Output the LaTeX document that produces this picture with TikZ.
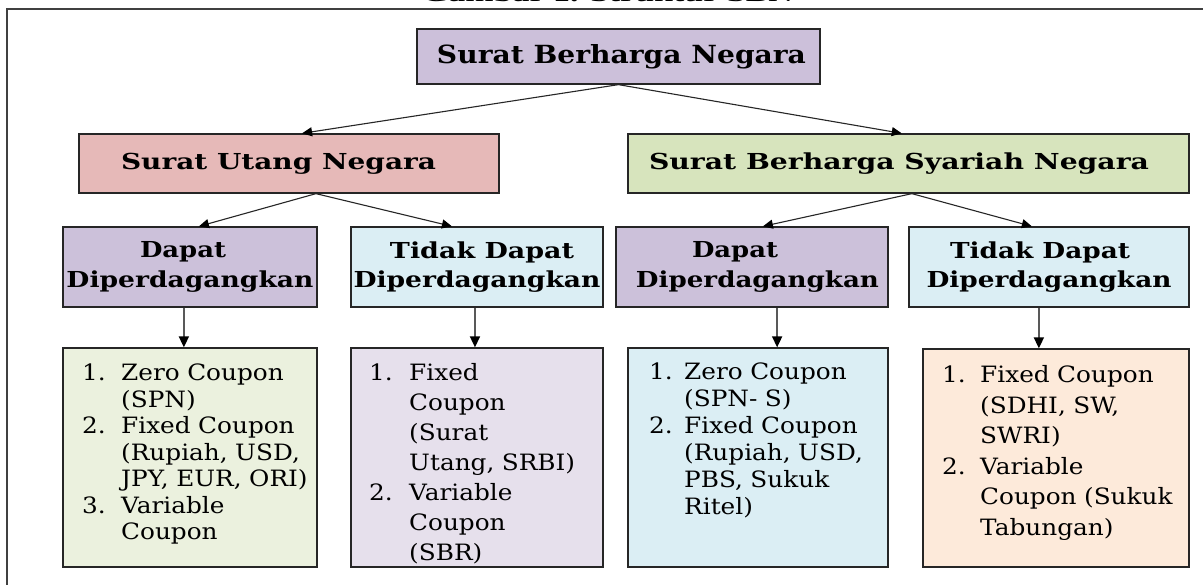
\documentclass[tikz,border=0pt]{standalone}
\usepackage{fontspec}
\usepackage{graphicx}
\usetikzlibrary{arrows.meta,calc}
\setmainfont{DejaVu Serif}
\newfontfamily\listfont{DejaVu Serif}[FakeStretch=1.1]
\newfontfamily\titlefont{Liberation Serif}
\definecolor{cRoot}{HTML}{CCC0DA}
\definecolor{cSun}{HTML}{E6B9B8}
\definecolor{cSbsn}{HTML}{D7E4BD}
\definecolor{cDapat}{HTML}{CCC1DA}
\definecolor{cTidak}{HTML}{DBEEF4}
\definecolor{cLA}{HTML}{EBF1DE}
\definecolor{cLB}{HTML}{E6E0EC}
\definecolor{cLC}{HTML}{DBEEF4}
\definecolor{cLD}{HTML}{FDEADA}
\newcommand\fitw[2]{\resizebox{#1}{\height}{#2}}
\newcommand\li[3]{\makebox[#1][l]{#2}#3}
\newcommand\lc[2]{\hspace*{#1}#2}
\begin{document}
\begin{tikzpicture}[x=1pt,y=-1pt,
  box/.style={draw=black!85, line width=1.3pt, inner sep=0pt, rectangle},
  hdr/.style={box, font=\bfseries\fontsize{22}{29.5}\selectfont, align=center},
  txt/.style={anchor=base west, inner sep=0pt, text width=280pt, align=left},
  conn/.style={line width=1.1pt, draw=black!85, -{Triangle[length=10pt,width=9pt,color=black]}},
  vconn/.style={line width=1.7pt, draw=black!65, -{Triangle[length=11pt,width=10pt,color=black]}}
]
\useasboundingbox (0,0) rectangle (1203,585);
\clip (0,0) rectangle (1203,585);
\fill[white] (0,0) rectangle (1203,585);
% title (cut off at top)
\node[anchor=base, inner sep=0pt, font=\titlefont\bfseries\fontsize{22}{24}\selectfont] (title) at (607.5,2) {\fitw{371pt}{Gambar 1. Struktur SBN}};
% frame
\draw[line width=1.8pt, black!75] (7,590) -- (7,9) -- (1210,9);
% level 1
\node[hdr, fill=cRoot, minimum width=403pt, minimum height=55pt, font=\bfseries\fontsize{25}{28}\selectfont] (root) at (618.5,56.5) {\makebox[375pt][r]{\fitw{369pt}{Surat Berharga Negara}}};
% level 2
\node[hdr, fill=cSun, minimum width=420pt, minimum height=59pt] (sun) at (289,163.5) {\makebox[336pt][l]{\fitw{315pt}{Surat Utang Negara}}};
\node[hdr, fill=cSbsn, minimum width=561pt, minimum height=59pt] (sbsn) at (908.5,163.5) {\makebox[519pt][l]{\fitw{500pt}{Surat Berharga Syariah Negara}}};
% level 3
\node[hdr, fill=cDapat, minimum width=254pt, minimum height=80pt] (dA) at (190,267) {\makebox[100pt][l]{\fitw{86pt}{Dapat}}\\\fitw{247pt}{Diperdagangkan}};
\node[hdr, fill=cTidak, minimum width=252pt, minimum height=80pt] (dB) at (477,267) {\makebox[194pt][r]{\fitw{184pt}{Tidak Dapat}}\\\fitw{247pt}{Diperdagangkan}};
\node[hdr, fill=cDapat, minimum width=272pt, minimum height=80pt] (dC) at (752,267) {\makebox[120pt][l]{\fitw{86pt}{Dapat}}\\\makebox[254pt][r]{\fitw{243pt}{Diperdagangkan}}};
\node[hdr, fill=cTidak, minimum width=280pt, minimum height=80pt] (dD) at (1049,267) {\makebox[198pt][l]{\fitw{180pt}{Tidak Dapat}}\\\fitw{245pt}{Diperdagangkan}};
% level 4 boxes
\node[box, fill=cLA, minimum width=254pt, minimum height=219pt] (lA) at (190,457.5) {};
\node[box, fill=cLB, minimum width=252pt, minimum height=219pt] (lB) at (477,457.5) {};
\node[box, fill=cLC, minimum width=260pt, minimum height=219pt] (lC) at (758,457.5) {};
\node[box, fill=cLD, minimum width=266pt, minimum height=218pt] (lD) at (1056,458) {};
% list texts
\node[txt, font=\listfont\fontsize{22.5}{26.5}\selectfont] (tA) at (82,381) {\li{39pt}{1.}{Zero Coupon}\\ \lc{39pt}{(SPN)}\\ \li{39pt}{2.}{Fixed Coupon}\\ \lc{39pt}{(Rupiah, USD,}\\ \lc{39pt}{JPY, EUR, ORI)}\\ \li{39pt}{3.}{Variable}\\ \lc{39pt}{Coupon}};
\node[txt, font=\listfont\fontsize{22.5}{30}\selectfont] (tB) at (369,381) {\li{40pt}{1.}{Fixed}\\ \lc{40pt}{Coupon}\\ \lc{40pt}{(Surat}\\ \lc{40pt}{Utang, SRBI)}\\ \li{40pt}{2.}{Variable}\\ \lc{40pt}{Coupon}\\ \lc{40pt}{(SBR)}};
\node[txt, font=\listfont\fontsize{22.5}{27}\selectfont] (tC) at (649,380) {\li{35pt}{1.}{Zero Coupon}\\ \lc{35pt}{(SPN- S)}\\ \li{35pt}{2.}{Fixed Coupon}\\ \lc{35pt}{(Rupiah, USD,}\\ \lc{35pt}{PBS, Sukuk}\\ \lc{35pt}{Ritel)}};
\node[txt, font=\listfont\fontsize{22.5}{30.5}\selectfont] (tD) at (942,383) {\li{38pt}{1.}{Fixed Coupon}\\ \lc{38pt}{(SDHI, SW,}\\ \lc{38pt}{SWRI)}\\ \li{38pt}{2.}{Variable}\\ \lc{38pt}{Coupon (Sukuk}\\ \lc{38pt}{Tabungan)}};
% connectors level 1 -> 2
\draw[conn] (root.south) -- ($(sun.north west)!0.531!(sun.north east)$);
\draw[conn] (root.south) -- ($(sbsn.north west)!0.488!(sbsn.north east)$);
% level 2 -> 3
\coordinate (sunB) at ($(sun.south west)!0.564!(sun.south east)$);
\coordinate (sbsnB) at ($(sbsn.south west)!0.506!(sbsn.south east)$);
\draw[conn] (sunB) -- ($(dA.north west)!0.535!(dA.north east)$);
\draw[conn] (sunB) -- ($(dB.north west)!0.401!(dB.north east)$);
\draw[conn] (sbsnB) -- ($(dC.north west)!0.54!(dC.north east)$);
\draw[conn] (sbsnB) -- ($(dD.north west)!0.439!(dD.north east)$);
% level 3 -> 4
\coordinate (aA) at ($(dA.south west)!0.476!(dA.south east)$);
\coordinate (aB) at ($(dB.south west)!0.492!(dB.south east)$);
\coordinate (aC) at ($(dC.south west)!0.592!(dC.south east)$);
\coordinate (aD) at ($(dD.south west)!0.464!(dD.south east)$);
\draw[vconn] (aA) -- (aA |- lA.north);
\draw[vconn] (aB) -- (aB |- lB.north);
\draw[vconn] (aC) -- (aC |- lC.north);
\draw[vconn] (aD) -- (aD |- lD.north);
\end{tikzpicture}
\end{document}
